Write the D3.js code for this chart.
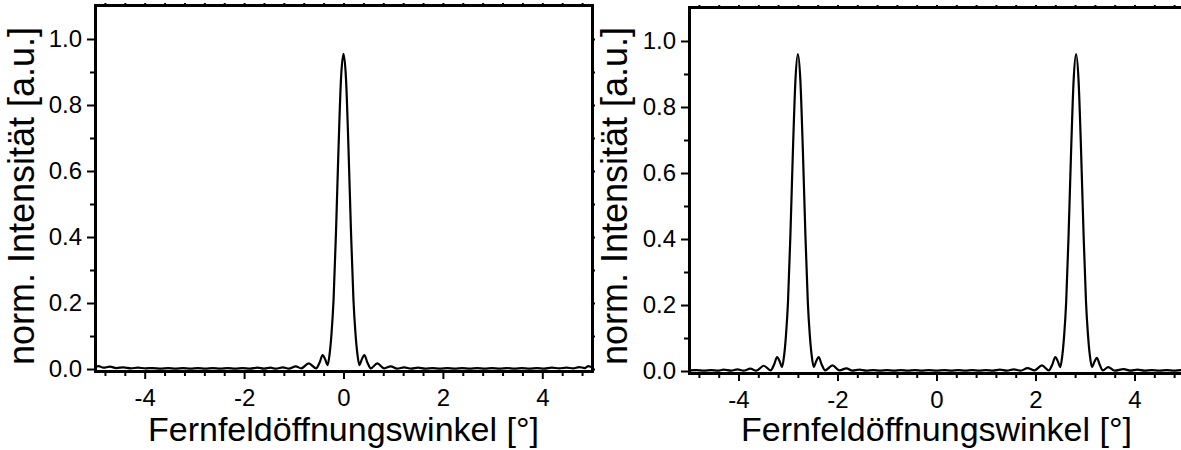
<!DOCTYPE html>
<meta charset="utf-8">
<html>
<head>
<script src="https://d3js.org/d3.v7.min.js"></script>
<style>
body { margin: 0; background: #fff; }
svg { display: block; }
.axis path, .axis line { stroke: #000; }
.axis path { stroke-width: 3; }
.axis line { stroke-width: 2; }
.label { font-family: "Liberation Sans", Arial, sans-serif; font-size: 34px; fill: #000; }
.label.ylab { font-size: 36px; }
</style>
</head>
<body>
<script>
// single slit: one central peak
var angleLeft = [-5.00, -4.93, -4.83, -4.70, -4.57, -4.43, -4.28, -4.14, -3.98, -3.84, -3.68, -3.53,
	-3.38, -3.23, -3.08, -2.93, -2.78, -2.63, -2.48, -2.33, -2.18, -2.03, -1.88, -1.73, -1.60, -1.47,
	-1.36, -1.22, -1.10, -0.96, -0.85, -0.70, -0.55, -0.48, -0.42, -0.37, -0.32, -0.28, -0.24, -0.20,
	-0.15, -0.10, -0.05, 0.00, 0.05, 0.10, 0.15, 0.20, 0.24, 0.28, 0.32, 0.37, 0.42, 0.48, 0.55, 0.68,
	0.82, 0.95, 1.08, 1.22, 1.36, 1.50, 1.64, 1.79, 1.94, 2.09, 2.24, 2.39, 2.54, 2.69, 2.84, 2.99,
	3.14, 3.29, 3.44, 3.59, 3.74, 3.89, 4.04, 4.19, 4.34, 4.49, 4.62, 4.74, 4.85, 4.93, 5.00];
var intensLeft = [0.007, 0.009, 0.004, 0.007, 0.003, 0.005, 0.002, 0.004, 0.002, 0.003, 0.001, 0.003,
	0.001, 0.003, 0.001, 0.003, 0.001, 0.003, 0.001, 0.003, 0.001, 0.003, 0.001, 0.004, 0.001, 0.004,
	0.001, 0.005, 0.001, 0.008, 0.002, 0.017, 0.002, 0.020, 0.042, 0.030, 0.012, 0.045, 0.11, 0.21,
	0.42, 0.67, 0.88, 0.955, 0.88, 0.67, 0.42, 0.21, 0.11, 0.045, 0.012, 0.030, 0.042, 0.020, 0.002, 0.017,
	0.002, 0.008, 0.001, 0.005, 0.001, 0.004, 0.001, 0.003, 0.001, 0.003, 0.001, 0.003, 0.001, 0.003, 0.001, 0.003,
	0.001, 0.003, 0.001, 0.003, 0.001, 0.003, 0.001, 0.004, 0.002, 0.004, 0.002, 0.006, 0.003, 0.009, 0.004];

// double peak
var angleRight = [-5.00, -4.85, -4.70, -4.55, -4.42, -4.30, -4.15, -4.02, -3.90, -3.76, -3.64, -3.49,
	-3.35, -3.28, -3.22, -3.17, -3.12, -3.08, -3.04, -3.00, -2.95, -2.90, -2.85, -2.80, -2.75, -2.70,
	-2.65, -2.60, -2.56, -2.52, -2.48, -2.43, -2.38, -2.32, -2.25, -2.10, -1.96, -1.82, -1.70, -1.56,
	-1.42, -1.28, -1.14, -1.00, -0.86, -0.72, -0.58, -0.44, -0.30, -0.16, 0.00, 0.16, 0.30, 0.44,
	0.58, 0.72, 0.86, 1.00, 1.14, 1.28, 1.42, 1.56, 1.70, 1.84, 1.98, 2.13, 2.27, 2.34, 2.40, 2.45,
	2.50, 2.54, 2.58, 2.62, 2.67, 2.72, 2.77, 2.82, 2.87, 2.92, 2.97, 3.02, 3.06, 3.10, 3.14, 3.19,
	3.24, 3.30, 3.36, 3.47, 3.60, 3.78, 3.92, 4.06, 4.20, 4.35, 4.50, 4.65, 4.80, 4.95, 5.00];
var intensRight = [0.002, 0.003, 0.001, 0.003, 0.001, 0.004, 0.001, 0.005, 0.001, 0.007, 0.001, 0.016,
	0.002, 0.020, 0.042, 0.030, 0.012, 0.045, 0.11, 0.21, 0.42, 0.67, 0.88, 0.96, 0.88, 0.67,
	0.42, 0.21, 0.11, 0.045, 0.012, 0.030, 0.042, 0.020, 0.002, 0.017, 0.002, 0.008, 0.001, 0.004,
	0.001, 0.003, 0.001, 0.003, 0.001, 0.003, 0.001, 0.003, 0.001, 0.003, 0.001, 0.003, 0.001, 0.003,
	0.001, 0.003, 0.001, 0.003, 0.001, 0.004, 0.001, 0.005, 0.001, 0.009, 0.002, 0.017, 0.002, 0.020, 0.042, 0.030,
	0.012, 0.045, 0.11, 0.21, 0.42, 0.67, 0.88, 0.96, 0.88, 0.67, 0.42, 0.21, 0.11, 0.045, 0.012, 0.028,
	0.040, 0.018, 0.002, 0.012, 0.001, 0.006, 0.001, 0.004, 0.001, 0.003, 0.001, 0.003, 0.001, 0.003, 0.002];

var xMajor = [-4, -2, 0, 2, 4];
var yMajor = [0.0, 0.2, 0.4, 0.6, 0.8, 1.0];
var yMinor = [0.1, 0.3, 0.5, 0.7, 0.9];
var xMinor = d3.range(-12, 13).filter(function(i) { return i % 5 != 0; }).map(function(i) { return i * 0.4; });

var xTitle = "Fernfeldöffnungswinkel [°]",
	yTitle = "norm. Intensität [a.u.]";

var width = 1181, height = 450;

var svg = d3.select("body").append("svg")
	.attr("width", width)
	.attr("height", height);

// d3 puts sans-serif / 10px on each axis group, override it here
function styleAxis(sel) {
	sel.attr("font-family", "Liberation Sans, Arial, sans-serif")
		.attr("font-size", 24);
	sel.selectAll("text").attr("fill", "#000");
	sel.select(".domain").attr("stroke-linecap", "square");
}

function drawPanel(angles, values, box) {
	var x = d3.scaleLinear().domain([-5, 5]).range([box.left, box.right]);
	var y = d3.scaleLinear().domain([-0.006, 1.103]).range([box.bottom, box.top]);

	var g = svg.append("g");

	// minor ticks first so the labelled axes sit on top
	g.append("g").attr("class", "axis")
		.attr("transform", "translate(0," + box.bottom + ")")
		.call(d3.axisBottom(x).tickValues(xMinor).tickSize(5).tickSizeOuter(0).tickFormat(""))
		.call(styleAxis);
	g.append("g").attr("class", "axis")
		.attr("transform", "translate(" + box.left + ",0)")
		.call(d3.axisLeft(y).tickValues(yMinor).tickSize(5).tickSizeOuter(0).tickFormat(""))
		.call(styleAxis);

	g.append("g").attr("class", "axis")
		.attr("transform", "translate(0," + box.bottom + ")")
		.call(d3.axisBottom(x).tickValues(xMajor).tickSize(8).tickPadding(10).tickSizeOuter(0)
			.tickFormat(function(d) { return String(d); }))
		.call(styleAxis);
	g.append("g").attr("class", "axis")
		.attr("transform", "translate(" + box.left + ",0)")
		.call(d3.axisLeft(y).tickValues(yMajor).tickSize(8).tickPadding(5).tickSizeOuter(0)
			.tickFormat(d3.format(".1f")))
		.call(styleAxis);

	// top + right frame, small ticks only
	g.append("g").attr("class", "axis")
		.attr("transform", "translate(0," + box.top + ")")
		.call(d3.axisTop(x).tickValues(xMajor.concat(xMinor)).tickSize(2).tickSizeOuter(0).tickFormat(""))
		.call(styleAxis);
	g.append("g").attr("class", "axis")
		.attr("transform", "translate(" + box.right + ",0)")
		.call(d3.axisRight(y).tickValues(yMajor.concat(yMinor)).tickSize(3).tickSizeOuter(0).tickFormat(""))
		.call(styleAxis);

	var line = d3.line()
		.x(function(d) { return x(d[0]); })
		.y(function(d) { return y(d[1]); })
		.curve(d3.curveMonotoneX);

	g.append("path")
		.datum(d3.zip(angles, values))
		.attr("fill", "none")
		.attr("stroke", "#000")
		.attr("stroke-width", 2.2)
		.attr("stroke-linejoin", "round")
		.attr("d", line);

	g.append("text")
		.attr("class", "label")
		.attr("text-anchor", "middle")
		.attr("x", x(0))
		.attr("y", 441)
		.text(xTitle);

	g.append("text")
		.attr("class", "label ylab")
		.attr("text-anchor", "middle")
		.attr("transform", "translate(" + box.yLabel + "," + 196 + ") rotate(-90)")
		.text(yTitle);
}

drawPanel(angleLeft, intensLeft, {left: 95, right: 592, top: 5, bottom: 371, yLabel: 34});
drawPanel(angleRight, intensRight, {left: 689, right: 1184, top: 7, bottom: 373, yLabel: 627});
</script>
</body>
</html>
